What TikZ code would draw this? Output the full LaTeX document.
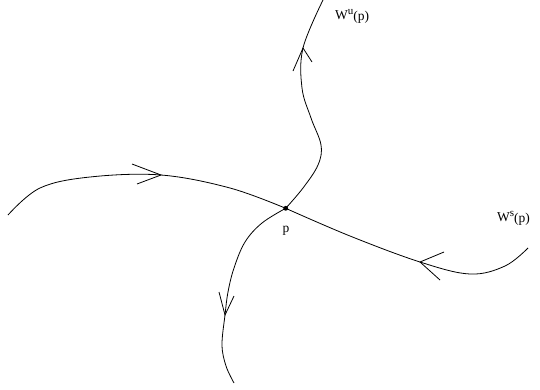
\documentclass[tikz,border=0pt]{standalone}
\usepackage{fontspec}
\setmainfont{Liberation Serif}
\newcommand{\supsc}[1]{\raisebox{4.5pt}{\fontsize{11}{13}\selectfont #1}}
\begin{document}
\begin{tikzpicture}[x=1pt,y=-1pt,
  curve/.style={line width=0.8pt, smooth, tension=0.6},
  chev/.style={line width=0.8pt},
  lbl/.style={font=\fontsize{13.5}{15}\selectfont, inner sep=0pt}]
\useasboundingbox (0,0) rectangle (540,389);

% fixed point
\coordinate (p) at (285.7,208.3);

% stable manifold
\draw[curve] plot coordinates {(8,215) (40,188) (90,177) (161,175) (230,188) (285.7,208.3)};
\draw[curve] plot coordinates {(285.7,208.3) (350,236) (420,262) (470,274) (505,266) (528,248)};

% unstable manifold
\draw[curve] plot coordinates {(323,0) (303,48) (302,88) (311,118) (321,145) (318,165) (303,188) (285.7,208.3)};
\draw[curve] plot coordinates {(285.7,208.3) (262,223) (245,242) (234,268) (228,292) (225,315) (222,345) (226,366) (234,383)};

% open arrowheads along the flow
\coordinate (a1) at (161,175);
\draw[chev] (132,164) -- (a1) -- (137,184);
\coordinate (a2) at (420,262);
\draw[chev] (444,252) -- (a2) -- (440,280);
\coordinate (a3) at (303,48);
\draw[chev] (293,71) -- (a3) -- (312,62);
\coordinate (a4) at (225,315);
\draw[chev] (219,292) -- (a4) -- (234,296);

\fill (p) circle (2.4pt);

% labels
\node[lbl, anchor=base west] (wu) at (335,19) {W\supsc{u}\raisebox{-1.5pt}{(p)}};
\node[lbl, anchor=base west] (ws) at (497,221) {W\supsc{s}\raisebox{-1.5pt}{(p)}};
\node[lbl] (pl) at (286,231) {p};
\end{tikzpicture}
\end{document}
